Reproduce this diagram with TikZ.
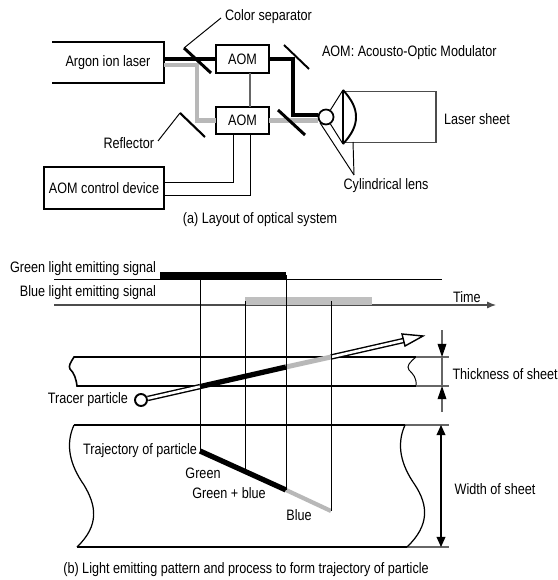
\documentclass[tikz,border=0pt]{standalone}
\usepackage{fontspec}
\setmainfont[FakeStretch=0.835]{Liberation Sans}
\usetikzlibrary{arrows.meta}

\begin{document}
\begin{tikzpicture}[
  x=0.02cm, y=-0.02cm,
  txt/.style={inner sep=0pt, outer sep=0pt, font=\fontsize{8.6pt}{10pt}\selectfont},
  box/.style={txt, draw, line width=0.9pt, align=center},
  aom/.style={box, minimum width=1.06cm, minimum height=0.55cm},
  wire/.style={line width=0.55pt},
  faint/.style={line width=0.6pt, black!60},
  beamg/.style={line width=2.4pt, black},
  beamb/.style={line width=2.4pt, black!28},
  mirror/.style={line width=1.7pt},
  edge/.style={line width=0.9pt},
  dim/.style={line width=0.6pt, black!60, -{Triangle[length=7.5pt,width=5pt,black]}},
  arr/.style={line width=0.6pt, {Triangle[length=5.7pt,width=5pt]}-{Triangle[length=5.7pt,width=5pt]}}
]
\useasboundingbox (0,0) rectangle (557,580);

% Optical system
\node[txt, minimum width=2.24cm, minimum height=0.82cm] (laser) at (108,62.5) {Argon ion laser};
\node[aom] (aomA) at (242.5,59) {AOM};
\node[aom] (aomB) at (242.5,120.5) {AOM};
\node[box, minimum width=2.4cm, minimum height=0.84cm] (ctrl) at (104,188) {AOM control device};
\node[draw, circle, line width=1pt, minimum size=0.3cm, inner sep=0pt] (spot) at (326,117) {};
\node[draw=black!70, line width=0.7pt, minimum width=1.86cm, minimum height=1.03cm, inner sep=0pt] (sheet) at (389.5,117) {};
\draw[edge] (laser.north west) -- (laser.north east) -- (laser.south east) -- (laser.south west);

\coordinate (turn) at (293,59);
\coordinate (turnB) at (197,65);
\coordinate (lensT) at (343,90);
\coordinate (lensB) at (343,144);
\coordinate (pick) at (354,175);
\coordinate (sepN) at (221,18);
\coordinate (sepA) at (184,48);
\coordinate (sepB) at (211,73);
\coordinate (refA) at (180,113);
\coordinate (refB) at (205,137);
\coordinate (upA) at (284,45);
\coordinate (upB) at (309,69);
\coordinate (lowA) at (278,110);
\coordinate (lowB) at (305,135);

% Beams
\draw[beamb] (laser.east |- turnB) -- (turnB) -- (turnB |- aomB) -- (aomB.west);
\draw[beamb] (aomB.east) -- (spot.west |- aomB.east);
\draw[beamg] (laser.east |- turn) -- (aomA.west |- turn);
\draw[beamg] (aomA.east |- turn) -- (turn) -- (turn |- 0,115) -- (spot.west |- 0,115);

% Mirrors
\draw[mirror] (sepA) -- (sepB);
\draw[mirror, line width=1.2pt] (refA) -- (refB);
\draw[mirror, line width=1.1pt] (upA) -- (upB);
\draw[mirror] (lowA) -- (lowB);

% Wires
\draw[faint] (aomA.south -| 250,0) -- (aomB.north -| 250,0);
\draw[wire] (aomB.south -| 233,0) -- (233,182) -- (ctrl.east |- 0,182);
\draw[wire] (aomB.south -| 250,0) -- (250,195) -- (ctrl.east |- 0,195);

% Lens
\draw[wire] (spot) -- (lensT);
\draw[wire] (spot) -- (lensB);
\draw[line width=0.8pt] (lensT) -- (lensB);
\draw[line width=1.1pt] (lensT) .. controls (352,100) and (356,108) .. (356,117) .. controls (356,126) and (352,134) .. (lensB);
\draw[wire] (spot.south west) -- (pick);
\draw[wire] (353,142) -- (pick);

% Labels
\node[txt, anchor=west] (sepL) at (225,17) {Color separator};
\node[txt, anchor=east] (refL) at (154,143.5) {Reflector};
\node[txt, anchor=west] (aomL) at (322,53) {AOM: Acousto-Optic Modulator};
\node[txt, anchor=west] (sheetL) at (444,119) {Laser sheet};
\node[txt] (lensL) at (386,186) {Cylindrical lens};
\node[txt] (capA) at (260,220) {(a) Layout of optical system};
\draw[wire] (sepN) -- (sepA);
\draw[wire] (158,141) -- (refA);

% Signals
\node[txt, anchor=east] (greenS) at (156,269) {Green light emitting signal};
\node[txt, anchor=east] (blueS) at (156,293) {Blue light emitting signal};
\node[txt, anchor=west] (timeL) at (453,297) {Time};
\coordinate (g0) at (160,275.5);
\coordinate (g1) at (286,275.5);
\coordinate (b0) at (245,301);
\coordinate (b1) at (372,301);
\draw[wire] (54,279.5) -- (442,279.5);
\draw[line width=0.7pt, black!70, -{Latex[length=5pt,width=4pt]}] (54,305) -- (496,305);
\draw[line width=4pt] (g0) -- (g1);
\draw[line width=4pt, black!25] (b0) -- (b1);

% Sheet section
\draw[edge] (416,357) -- (74,357) .. controls (71,362) and (68,366) .. (70,369) .. controls (74,373) and (76,378) .. (77,386) -- (416,386);
\draw[wire] (416,357) .. controls (410,362) and (406,366) .. (409,370) .. controls (413,374) and (417,378) .. (416,386);
\draw[faint] (416,357) -- (449,357);
\draw[faint] (416,386) -- (449,386);
\draw[faint] (442,357) -- (442,386);
\draw[dim] (442,330) -- (442,357);
\draw[dim] (442,412) -- (442,386);
\node[txt, anchor=west] (thickL) at (452.5,374) {Thickness of sheet};

% Tracer particle
\node[draw, circle, line width=1.1pt, minimum size=0.24cm, inner sep=0pt, fill=white] (tracer) at (141,400) {};
\node[txt, anchor=east] (tracerL) at (128,400) {Tracer particle};
\coordinate (t0) at (200,386.6);
\coordinate (t1) at (286,367);
\coordinate (t2) at (331,357);
\coordinate (t3) at (404,340.4);
\coordinate (hA) at (402,334);
\coordinate (hB) at (423,336);
\coordinate (hC) at (405,346);
\draw[line width=0.8pt, double=white, double distance=1.5pt] (tracer) -- (t0);
\draw[line width=0.8pt, double=white, double distance=1.5pt] (t2) -- (t3);
\draw[line width=3pt] (t0) -- (t1);
\draw[line width=2.8pt, black!28] (t1) -- (t2);
\draw[line width=0.8pt, fill=white] (hA) -- (hB) -- (hC) -- cycle;

% Sheet plan
\draw[edge] (74,425) -- (405,425);
\draw[edge] (77,547) -- (407,547);
\draw[faint] (405,425) -- (449,425);
\draw[faint] (407,547) -- (449,547);
\draw[line width=0.7pt] (74,425) .. controls (65,445) and (70,465) .. (84,485) .. controls (96,505) and (100,525) .. (77,547);
\draw[line width=0.7pt] (405,425) .. controls (396,445) and (401,465) .. (415,485) .. controls (428,505) and (430,525) .. (407,547);
\draw[arr] (441,425) -- (441,547);
\node[txt] (widthL) at (495,489) {Width of sheet};

% Trajectory
\coordinate (c0) at (200,451);
\coordinate (c1) at (245,472);
\coordinate (c2) at (286,490);
\coordinate (c3) at (331,511);
\draw[line width=3pt] (c0) -- (c2);
\draw[line width=2.4pt, black!28] (c2) -- (c3);
\draw[wire] (g0 -| c0) -- (c0);
\draw[wire] (b0 -| c1) -- (c1);
\draw[wire] (g1) -- (c2);
\draw[wire] (b0 -| c3) -- (c3);
\node[txt, anchor=east] (trajL) at (197,451) {Trajectory of particle};
\node[txt] (greenL) at (203,473) {Green};
\node[txt] (bothL) at (229,493) {Green + blue};
\node[txt] (blueL) at (299,515) {Blue};
\node[txt] (capB) at (246,570) {(b) Light emitting pattern and process to form trajectory of particle};
\end{tikzpicture}
\end{document}
